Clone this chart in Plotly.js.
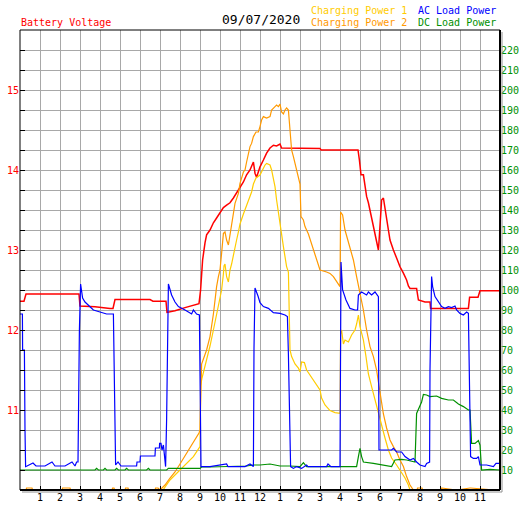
<!DOCTYPE html>
<html>
<head>
<meta charset="utf-8">
<script src="https://cdn.plot.ly/plotly-3.0.1.min.js"></script>
<style>
html,body{margin:0;padding:0;background:#fff;}
#chart{width:527px;height:510px;}
</style>
</head>
<body>
<div id="chart"></div>
<script>
// ---- Data (hours since midnight, values) ----
const dateLabel = "09/07/2020";
const hourTicks = [1,2,3,4,5,6,7,8,9,10,11,12,13,14,15,16,17,18,19,20,21,22,23];
const hourLabels = ["1","2","3","4","5","6","7","8","9","10","11","12","1","2","3","4","5","6","7","8","9","10","11"];
const voltTickLabels = ["11","12","13","14","15"];
const powerTicks = [10,20,30,40,50,60,70,80,90,100,110,120,130,140,150,160,170,180,190,200,210,220];

// Battery Voltage (V)
const voltT = [0,0.2,0.3,2.95,3.0,3.75,4.5,4.65,4.75,6.5,6.65,7.3,7.35,7.75,8.25,8.75,8.95,9.03,9.13,9.25,9.33,9.5,9.67,9.83,10.0,10.17,10.33,10.5,10.67,10.83,11.0,11.17,11.33,11.5,11.67,11.75,11.83,11.92,12.0,12.17,12.33,12.5,12.67,12.83,13.0,13.08,15.0,15.05,16.9,16.97,17.0,17.05,17.17,17.25,17.33,17.42,17.5,17.58,17.67,17.75,17.83,17.92,17.95,18.0,18.03,18.08,18.17,18.25,18.33,18.42,18.5,18.58,18.67,18.83,19.0,19.17,19.33,19.42,19.5,19.83,19.92,20.25,20.5,20.53,22.42,22.48,22.9,23.0,24.0];
const voltV = [12.36,12.36,12.45,12.45,12.30,12.29,12.27,12.27,12.38,12.38,12.36,12.36,12.22,12.24,12.28,12.31,12.33,12.5,12.875,13.09,13.19,13.25,13.34,13.4,13.46,13.53,13.56,13.59,13.65,13.71,13.78,13.85,13.94,14.0,14.1,13.96,13.91,13.98,14.04,14.125,14.21,14.275,14.31,14.3,14.325,14.275,14.27,14.25,14.25,14.125,14.0,13.94,13.94,13.79,13.67,13.59,13.5,13.4,13.31,13.21,13.1,13.0,13.1,13.29,13.5,13.625,13.65,13.5,13.375,13.25,13.125,13.06,13.0,12.9,12.79,12.71,12.625,12.55,12.52,12.52,12.375,12.35,12.35,12.27,12.27,12.41,12.41,12.49,12.49];

// Charging Power 1
const cp1T = [0,7.15,7.5,8.0,8.33,8.67,9.0,9.03,9.1,9.33,9.5,9.67,9.83,10.0,10.08,10.17,10.2,10.25,10.33,10.42,10.5,10.58,10.67,10.83,10.92,11.0,11.17,11.33,11.5,11.58,11.67,11.8,12.0,12.17,12.25,12.33,12.5,12.58,12.67,12.75,12.83,12.92,13.0,13.08,13.17,13.25,13.33,13.42,13.44,13.47,13.5,13.58,13.75,13.92,14.0,14.08,14.22,14.33,14.5,14.75,15.0,15.08,15.25,15.5,15.75,16.0,16.03,16.08,16.17,16.25,16.42,16.58,16.75,16.83,16.92,17.0,17.08,17.17,17.3,17.42,17.58,17.75,17.92,18.08,18.25,18.42,18.58,18.83,19.08,19.25,19.42,19.5,24];
const cp1P = [0,0,5,10,13.3,16.7,21.7,52,56,65,72,80,88,95,100,108,112,113,106.7,104,110,113,118,125,129,133,138,142.5,146.7,149,153,156,157.5,161,162.5,163.3,162.5,160,155,151.7,145,138.3,133.3,126.7,121.7,116.7,111.7,109,100,86.7,70,66.7,63,61,59,64,63.7,60,57.5,54,50,46,42.5,39.7,38.7,38.3,78,80,73,75,74,77.5,80,83,87.5,81.7,78,75,66.7,58,51.7,45,38,31.7,26,20,16,12.5,9,6,2.5,0,0];

// Charging Power 2
const cp2T = [0,0.3,0.33,0.6,0.63,2.1,2.13,2.5,2.53,4.6,4.63,4.7,4.73,5.25,5.28,5.4,5.43,6.75,6.78,6.9,7.0,7.25,7.5,7.75,8.0,8.25,8.5,8.75,8.95,9.0,9.08,9.33,9.5,9.67,9.75,9.83,9.92,10.0,10.08,10.17,10.25,10.33,10.42,10.5,10.58,10.67,10.75,10.92,11.0,11.17,11.25,11.33,11.42,11.5,11.58,11.67,11.8,11.92,12.0,12.08,12.17,12.33,12.5,12.58,12.75,12.83,12.92,13.0,13.08,13.17,13.25,13.33,13.42,13.47,13.5,13.58,13.67,13.75,13.83,13.92,14.0,14.03,14.05,14.17,14.25,14.42,14.58,14.75,14.92,15.0,15.33,15.5,15.67,15.83,16.0,16.03,16.13,16.25,16.42,16.67,16.83,17.0,17.17,17.33,17.5,17.67,17.83,17.92,18.0,18.17,18.33,18.5,18.67,18.83,19.0,19.17,19.33,19.5,19.67,19.85,19.88,20.1,20.13,21.05,21.08,21.1,21.8,21.83,22.5,22.53,23.75,23.78,24];
const cp2P = [0,0,1,1,0,0,1,1,0,0,1,1,0,0,1,1,0,0,1,1,0,2.5,6,9,13,17,21.7,25,28.5,30,63,70,76.7,88,96,101.7,106.7,110,118.3,128.3,129,125,122.5,127.5,133.3,138.3,143.3,148.3,153.3,159,160,164,168.3,171.7,173.3,176.7,179,179,181.7,185,186.7,186,186.7,190,191.7,192.5,191.7,193,189,188,190,191,190,183,178,170,166.7,163,160,156.7,153,143,136.7,135,131.7,128,123,118.3,113,110,109,108.3,106.7,104,101.7,139,137.5,130,124,115,106.7,99,90,80,71.7,66.7,60,54,48,38,31,25,21.7,19,15,11.7,6.7,2.5,0,0,1,1,0,0,1,1,0,0,1,1,0,0];

// AC Load Power
const acT = [0,0.12,0.13,0.22,0.25,0.28,0.35,0.65,0.8,1.25,1.6,1.75,2.25,2.6,2.75,2.83,2.9,2.92,2.97,3.03,3.13,3.25,3.42,3.67,4.0,4.33,4.67,4.7,4.78,4.9,5.05,5.83,5.85,6.0,6.02,6.75,6.77,6.97,6.98,7.05,7.1,7.17,7.22,7.28,7.33,7.42,7.58,7.75,7.92,8.08,8.25,8.42,8.58,8.67,8.83,8.97,9.05,9.5,9.75,10.33,10.4,11.25,11.5,11.67,11.7,11.75,11.9,12.0,12.17,12.42,12.67,13.0,13.25,13.37,13.42,13.47,13.53,13.67,13.83,14.08,14.33,14.4,14.5,15.33,15.4,15.55,16.0,16.02,16.05,16.13,16.2,16.3,16.5,16.75,16.88,16.92,17.08,17.33,17.42,17.58,17.75,17.92,17.95,18.25,18.58,18.67,18.83,19.08,19.25,19.5,19.67,19.83,20.0,20.25,20.33,20.48,20.5,20.58,20.63,20.75,20.92,21.08,21.25,21.42,21.58,21.75,21.83,22.0,22.17,22.33,22.42,22.45,22.48,22.53,22.67,22.83,22.92,23.0,23.33,23.67,23.8,24.0];
const acP = [88,88,70,70,30,11.7,12,13.5,12,12,14,12,12,14,12,14,14,34,80,103,96,94,92.5,90,89,88,88,69,12.5,14,12,12,14,14,17,17,21,21,23.3,23.3,20,22.5,17.5,11.7,35,103,97.5,94,91.7,91,90,89,88,90,88,87.5,11.7,11.7,12,13,11.7,11.7,13,11.7,71,101,97,93.7,91.7,90.8,88.7,88.3,87.5,86.7,68,31,11.7,10.8,11.7,10.8,12.5,11.7,11.7,11.7,13,11.7,11.7,41,114,100,97.5,95,90.8,90,90,97.5,99,97.5,99,97.5,99,96.7,20,20,20,20.8,19,19,16.7,15,15.8,14,12.5,11.7,13.3,14,60,106.7,101.7,96.7,94,91.7,90.8,91.7,91.2,92,90,88.3,87.5,89,88.3,70,35,16.7,15.8,15.8,16.7,12.5,12.5,11.7,13.3,13.3];

// DC Load Power
const dcT = [0,3.75,3.83,3.92,4.17,4.25,4.33,4.75,4.83,4.92,5.25,5.33,5.42,6.33,6.42,6.5,7.33,7.42,9.0,9.08,9.5,10.33,11.33,11.67,12.0,12.5,13.0,13.5,14.0,14.17,14.33,15.5,16.83,16.92,17.0,17.08,17.17,17.67,18.17,18.58,18.75,19.08,19.33,19.75,19.83,20.0,20.08,20.17,20.33,20.5,20.83,21.08,21.42,21.67,21.92,22.17,22.42,22.5,22.58,22.75,22.92,23.0,23.08,23.5,24];
const dcP = [10,10,10.8,10,10,10.8,10,10,10.8,10,10,10.8,10,10,10.8,10,10,10.8,10.8,11.5,11.5,11.7,12,12.5,12.5,13,12,12,11.7,13.7,11.7,11.7,11.7,16.7,20.8,16.7,14,13.3,12.5,11.7,15,15.3,15,14,38.3,42.5,44,47.8,47.5,46.7,47,45.8,45,45,43,41.7,40,40,23.3,23.3,24.7,22.5,10,10.3,10];

// ---- Styling ----
const MONO = "DejaVu Sans Mono, Liberation Mono, monospace";
const RED = "#ff0000", GOLD = "#ffcc00", ORANGE = "#ff9900", BLUE = "#0000ff", GREEN = "#009000";

const voltTickVals = [], voltTickText = [];
for (let v = 10; v <= 15.75 + 1e-9; v += 0.25) {
  voltTickVals.push(+v.toFixed(2));
  const idx = voltTickLabels.indexOf(String(v));
  voltTickText.push(Number.isInteger(v) && idx >= 0 ? voltTickLabels[idx] : "");
}

const traces = [
  {x: cp1T, y: cp1P, yaxis: "y2", type: "scatter", mode: "lines", line: {color: GOLD, width: 1.2}, name: "Charging Power 1"},
  {x: cp2T, y: cp2P, yaxis: "y2", type: "scatter", mode: "lines", line: {color: ORANGE, width: 1.2}, name: "Charging Power 2"},
  {x: dcT, y: dcP, yaxis: "y2", type: "scatter", mode: "lines", line: {color: GREEN, width: 1.2}, name: "DC Load Power"},
  {x: acT, y: acP, yaxis: "y2", type: "scatter", mode: "lines", line: {color: BLUE, width: 1.2}, name: "AC Load Power"},
  {x: voltT, y: voltV, yaxis: "y", type: "scatter", mode: "lines", line: {color: RED, width: 1.5}, name: "Battery Voltage"}
];

const px = (p) => p / 480, py = (p) => p / 460;

const layout = {
  width: 527, height: 510,
  margin: {l: 20, r: 27, t: 30, b: 20, pad: 0},
  paper_bgcolor: "#fff", plot_bgcolor: "#fff",
  showlegend: false,
  hovermode: false,
  xaxis: {
    range: [0, 24], tickvals: hourTicks, ticktext: hourLabels,
    showgrid: true, gridcolor: "#a8a8a8", gridwidth: 1,
    zeroline: false, showline: false,
    ticks: "inside", ticklen: 4, tickcolor: "#000", tickwidth: 1,
    tickfont: {family: MONO, size: 10, color: "#000"},
    fixedrange: true
  },
  yaxis: {
    range: [10, 15.75], tickvals: voltTickVals, ticktext: voltTickText,
    showgrid: true, gridcolor: "#a8a8a8", gridwidth: 1,
    zeroline: false, showline: false,
    ticks: "inside", ticklen: 5, tickcolor: "#000", tickwidth: 1,
    tickfont: {family: MONO, size: 10, color: RED},
    fixedrange: true
  },
  yaxis2: {
    range: [0, 230], tickvals: powerTicks, overlaying: "y", side: "right",
    showgrid: false, zeroline: false, showline: false, ticks: "",
    tickfont: {family: MONO, size: 10, color: GREEN},
    fixedrange: true
  },
  shapes: [
    {type: "rect", xref: "paper", yref: "paper", x0: 0, x1: 1, y0: 0, y1: 1, line: {color: "#000", width: 1}, layer: "above"},
    {type: "line", xref: "paper", yref: "paper", x0: 0, x1: 1, y0: 0, y1: 0, line: {color: "#000", width: 2}, layer: "above"},
    {type: "line", xref: "paper", yref: "paper", x0: 1, x1: 1, y0: 0, y1: 1, line: {color: "#000", width: 2}, layer: "above"},
    {type: "line", xref: "paper", yref: "paper", x0: 1 + px(2), x1: 1 + px(2), y0: -py(2), y1: 1 - py(2), line: {color: "#909090", width: 1}, layer: "above"},
    {type: "line", xref: "paper", yref: "paper", x0: px(2), x1: 1 + px(2), y0: -py(2), y1: -py(2), line: {color: "#909090", width: 1}, layer: "above"}
  ],
  annotations: [
    {text: "Battery Voltage", xref: "paper", yref: "paper", x: 0, y: 1 + py(8), xanchor: "left", yanchor: "middle", showarrow: false, font: {family: MONO, size: 10, color: RED}, borderpad: 0},
    {text: dateLabel, xref: "paper", yref: "paper", x: px(241), y: 1 + py(10), xanchor: "center", yanchor: "middle", showarrow: false, font: {family: MONO, size: 13, color: "#000"}, borderpad: 0},
    {text: "Charging Power 1", xref: "paper", yref: "paper", x: px(290), y: 1 + py(19), xanchor: "left", yanchor: "middle", showarrow: false, font: {family: MONO, size: 10, color: GOLD}, borderpad: 0},
    {text: "Charging Power 2", xref: "paper", yref: "paper", x: px(290), y: 1 + py(7), xanchor: "left", yanchor: "middle", showarrow: false, font: {family: MONO, size: 10, color: ORANGE}, borderpad: 0},
    {text: "AC Load Power", xref: "paper", yref: "paper", x: px(397), y: 1 + py(19), xanchor: "left", yanchor: "middle", showarrow: false, font: {family: MONO, size: 10, color: BLUE}, borderpad: 0},
    {text: "DC Load Power", xref: "paper", yref: "paper", x: px(397), y: 1 + py(7), xanchor: "left", yanchor: "middle", showarrow: false, font: {family: MONO, size: 10, color: GREEN}, borderpad: 0}
  ]
};

Plotly.newPlot("chart", traces, layout, {staticPlot: true, displayModeBar: false});
</script>
</body>
</html>
